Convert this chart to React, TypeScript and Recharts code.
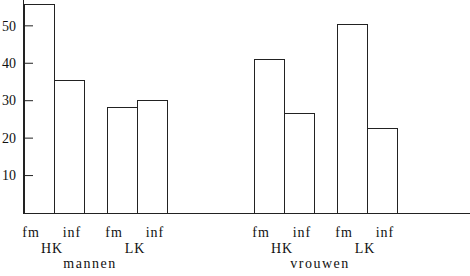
import React from 'react';
import { BarChart, Bar, XAxis, YAxis, LabelList } from 'recharts';

// values
const genders = ['mannen', 'vrouwen'];
const hkFm = [55.6, 41.1];
const hkInf = [35.4, 26.6];
const lkFm = [28.3, 50.3];
const lkInf = [30.1, 22.7];
const yTicks = [10, 20, 30, 40, 50];
const typeLabels = ['fm', 'inf'];
const groupLabels = ['HK', 'LK'];

const data = genders.map((g, i) => ({
    gender: g,
    hkFm: hkFm[i],
    hkInf: hkInf[i],
    lkFm: lkFm[i],
    lkInf: lkInf[i],
}));

const font = '"Liberation Serif", "DejaVu Serif", serif';
const ink = '#111';
const line = '#222';

const YTick = (props: any) => {
    const { x, y, payload } = props;
    return (
        <g>
            <text x={x} y={y + 4.7} textAnchor="end" fontFamily={font} fontSize={14} fill={ink}>
                {payload.value}
            </text>
            <line x1={x + 7} x2={x + 17} y1={y} y2={y} stroke={line} strokeWidth={1} />
        </g>
    );
};

const XTick = (props: any) => {
    const { x, y, payload } = props;
    return (
        <text x={x - 5} y={y + 55} textAnchor="middle" fontFamily={font} fontSize={14} letterSpacing={1.5} fill={ink}>
            {payload.value}
        </text>
    );
};

// label under a bar; dx shifts it off the bar centre like the scan
const typeLabel = (text: string, dx: number) => (props: any) => {
    const { x, y, width, height } = props;
    return (
        <text x={x + width / 2 + dx} y={y + height + 23.5} textAnchor="middle" fontFamily={font} fontSize={14} letterSpacing={1} fill={ink}>
            {text}
        </text>
    );
};

// HK / LK sits under the joint of the two bars of a pair
const groupLabel = (text: string) => (props: any) => {
    const { x, y, height } = props;
    return (
        <text x={x - 2} y={y + height + 40} textAnchor="middle" fontFamily={font} fontSize={14} letterSpacing={1} fill={ink}>
            {text}
        </text>
    );
};

export default function App() {
    return (
        <div style={{ position: 'absolute', left: 0, top: 0, background: '#fff' }}>
            <style>{'.recharts-rectangle, .recharts-cartesian-axis-line { shape-rendering: crispEdges; }'}</style>
            <BarChart
                width={470}
                height={276}
                data={data}
                margin={{ top: 0, right: 0, left: 0, bottom: 0 }}
                barGap={0}
            >
                <XAxis
                    dataKey="gender"
                    height={63}
                    padding={{ left: -43, right: 30 }}
                    axisLine={{ stroke: line }}
                    tickLine={false}
                    tickSize={0}
                    tickMargin={0}
                    tick={XTick}
                    interval={0}
                />
                <YAxis
                    width={23}
                    domain={[0, 56.9]}
                    ticks={yTicks}
                    allowDataOverflow
                    axisLine={{ stroke: line }}
                    tickLine={false}
                    tickSize={0}
                    tickMargin={7}
                    tick={YTick}
                />
                <Bar dataKey="hkFm" barSize={30} fill="#fff" stroke={line} isAnimationActive={false}>
                    <LabelList content={typeLabel(typeLabels[0], -8)} />
                </Bar>
                <Bar dataKey="hkInf" barSize={30} fill="#fff" stroke={line} isAnimationActive={false}>
                    <LabelList content={typeLabel(typeLabels[1], 3)} />
                    <LabelList content={groupLabel(groupLabels[0])} />
                </Bar>
                <Bar dataKey="gap" barSize={23} fill="none" isAnimationActive={false} />
                <Bar dataKey="lkFm" barSize={30} fill="#fff" stroke={line} isAnimationActive={false}>
                    <LabelList content={typeLabel(typeLabels[0], -8)} />
                </Bar>
                <Bar dataKey="lkInf" barSize={30} fill="#fff" stroke={line} isAnimationActive={false}>
                    <LabelList content={typeLabel(typeLabels[1], 3)} />
                    <LabelList content={groupLabel(groupLabels[1])} />
                </Bar>
            </BarChart>
        </div>
    );
}
